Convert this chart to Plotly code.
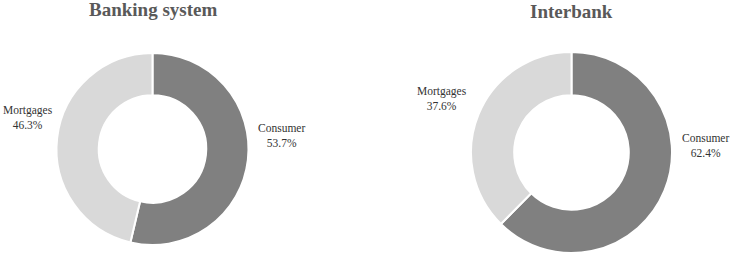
import plotly.graph_objects as go

categories = ["Consumer", "Mortgages"]
banking_values = [53.7, 46.3]
interbank_values = [62.4, 37.6]
titles = ["Banking system", "Interbank"]
colors = ["#808080", "#d9d9d9"]

W, H = 733, 253

def dom(cx, cy, r):
    return dict(x=[(cx - r) / W, (cx + r) / W], y=[(H - cy - r) / H, (H - cy + r) / H])

fig = go.Figure()
pies = [
    (banking_values, dom(152.5, 149, 96), 0.56),
    (interbank_values, dom(571.5, 152.5, 100.5), 0.57),
]
for vals, d, hole in pies:
    fig.add_trace(go.Pie(
        labels=categories, values=vals, domain=d, hole=hole,
        sort=False, direction="clockwise", rotation=0,
        marker=dict(colors=colors, line=dict(color="white", width=2)),
        textinfo="none", hoverinfo="label+percent", showlegend=False,
    ))

label_font = dict(family="Liberation Serif, Times New Roman, serif", size=11.5, color="#333333")
title_font = dict(family="Liberation Serif, Times New Roman, serif", size=19, color="#595959")

# label positions (pixel centers)
label_pos = [
    [(281, 135), (28, 117)],
    [(705, 145), (442, 98)],
]
title_pos = [(152.5, 9), (571.5, 7.5)]

annotations = []
for i, vals in enumerate([banking_values, interbank_values]):
    tx, ty = title_pos[i]
    if i == 1:
        annotations.append(dict(x=tx / W, y=1, xref="paper", yref="paper",
                                text="<b>%s</b>" % titles[i], showarrow=False, borderpad=0,
                                font=title_font, xanchor="center", yanchor="top"))
    else:
        annotations.append(dict(x=tx / W, y=1 - ty / H, xref="paper", yref="paper",
                                text="<b>%s</b>" % titles[i], showarrow=False,
                                font=title_font, xanchor="center", yanchor="middle"))
    for j, cat in enumerate(categories):
        lx, ly = label_pos[i][j]
        annotations.append(dict(x=lx / W, y=1 - ly / H, xref="paper", yref="paper",
                                text="%s<br>%.1f%%" % (cat, vals[j]), showarrow=False,
                                font=label_font, xanchor="center", yanchor="middle"))

fig.update_layout(
    width=W, height=H, margin=dict(l=0, r=0, t=0, b=0),
    paper_bgcolor="white", plot_bgcolor="white",
    annotations=annotations,
)
fig.write_html("out.html")
